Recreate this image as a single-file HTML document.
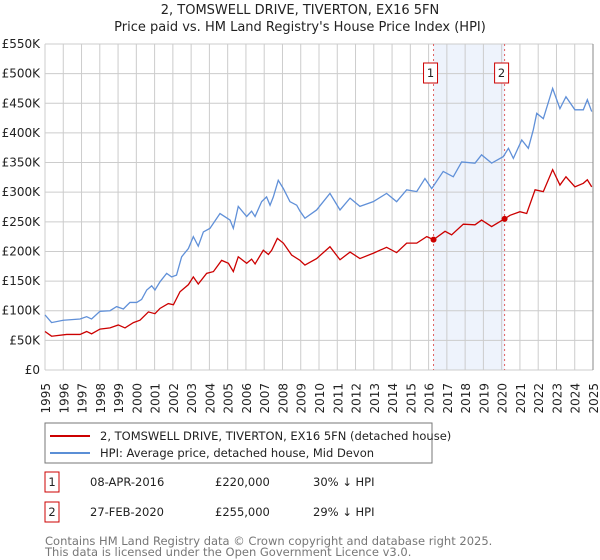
<!DOCTYPE html>
<html><head><meta charset="utf-8"><style>
html,body{margin:0;padding:0;background:#fff;width:600px;height:560px;overflow:hidden}
svg text{font-family:"DejaVu Sans","Liberation Sans",sans-serif}
</style></head><body>
<svg id="chart" width="600" height="560" xmlns="http://www.w3.org/2000/svg">
<text x="300" y="14" text-anchor="middle" font-size="13" fill="#222">2, TOMSWELL DRIVE, TIVERTON, EX16 5FN</text>
<text x="300" y="31" text-anchor="middle" font-size="13" fill="#222">Price paid vs. HM Land Registry's House Price Index (HPI)</text>
<g id="grid"></g><g id="marks"></g><g id="axes"></g>
<g>
<rect x="45" y="423" width="387" height="40" fill="#fff" stroke="#777"/>
<line x1="50" y1="436" x2="90" y2="436" stroke="#cc0000" stroke-width="2"/>
<text x="100" y="440" font-size="11.5" fill="#222">2, TOMSWELL DRIVE, TIVERTON, EX16 5FN (detached house)</text>
<line x1="50" y1="453" x2="90" y2="453" stroke="#5b8fd6" stroke-width="2"/>
<text x="100" y="457" font-size="11.5" fill="#222">HPI: Average price, detached house, Mid Devon</text>
</g>
<g font-size="11.5" fill="#222">
<rect x="45" y="472" width="14" height="20" fill="#fff" stroke="#cc0000"/>
<text x="52" y="486" text-anchor="middle">1</text>
<text x="90" y="486">08-APR-2016</text><text x="215" y="486">£220,000</text><text x="313" y="486">30% ↓ HPI</text>
</g>
<g font-size="11.5" fill="#222">
<rect x="45" y="502" width="14" height="20" fill="#fff" stroke="#cc0000"/>
<text x="52" y="516" text-anchor="middle">2</text>
<text x="90" y="516">27-FEB-2020</text><text x="215" y="516">£255,000</text><text x="313" y="516">29% ↓ HPI</text>
</g>
<text x="45" y="545" font-size="11.5" fill="#777">Contains HM Land Registry data © Crown copyright and database right 2025.</text>
<text x="45" y="556" font-size="11.5" fill="#777">This data is licensed under the Open Government Licence v3.0.</text>
</svg>
<script>
const yTicks=[0,50000,100000,150000,200000,250000,300000,350000,400000,450000,500000,550000];
const yTickLabels=["£0","£50K","£100K","£150K","£200K","£250K","£300K","£350K","£400K","£450K","£500K","£550K"];
const xYears=[1995,1996,1997,1998,1999,2000,2001,2002,2003,2004,2005,2006,2007,2008,2009,2010,2011,2012,2013,2014,2015,2016,2017,2018,2019,2020,2021,2022,2023,2024,2025];
const hpiDates=[1995.0,1995.36,1996.0,1996.92,1997.28,1997.55,1998.01,1998.56,1998.92,1999.29,1999.65,2000.02,2000.29,2000.57,2000.84,2001.02,2001.3,2001.66,2001.93,2002.2,2002.48,2002.85,2003.12,2003.39,2003.67,2004.03,2004.58,2005.13,2005.31,2005.58,2006.04,2006.31,2006.5,2006.86,2007.13,2007.32,2007.5,2007.77,2008.05,2008.41,2008.78,2008.96,2009.23,2009.87,2010.6,2011.15,2011.7,2012.24,2012.97,2013.7,2014.25,2014.8,2015.35,2015.8,2016.17,2016.8,2017.35,2017.81,2018.54,2018.9,2019.45,2020.09,2020.37,2020.64,2021.1,2021.46,2021.73,2021.92,2022.28,2022.79,2023.19,2023.52,2024.01,2024.47,2024.69,2024.93];
const hpiValues=[93,80,84,86,90,86,99,100,107,103,114,114,119,135,142,135,149,163,157,160,191,205,225,209,233,239,264,253,239,276,259,268,259,284,292,278,292,320,306,284,278,268,256,270,298,270,290,276,284,298,284,304,301,323,306,335,326,351,349,363,349,360,374,357,388,374,405,433,424,475,441,461,439,439,456,436];
const priceDates=[1995.0,1995.36,1996.19,1996.92,1997.28,1997.55,1998.01,1998.56,1999.01,1999.38,1999.84,2000.2,2000.66,2001.02,2001.3,2001.75,2002.03,2002.39,2002.85,2003.12,2003.39,2003.85,2004.22,2004.67,2005.04,2005.31,2005.58,2006.04,2006.31,2006.5,2006.95,2007.23,2007.41,2007.72,2008.05,2008.5,2008.96,2009.23,2009.87,2010.6,2011.15,2011.7,2012.24,2012.97,2013.7,2014.25,2014.8,2015.35,2015.9,2016.27,2016.9,2017.26,2017.9,2018.54,2018.9,2019.45,2020.16,2020.46,2021.0,2021.37,2021.83,2022.28,2022.79,2023.19,2023.52,2024.01,2024.47,2024.69,2024.93];
const priceValues=[65,57,60,60,65,61,69,71,76,71,80,84,98,95,104,112,110,132,144,157,145,163,166,185,180,166,191,180,187,179,202,195,202,222,214,194,185,177,188,208,186,199,188,197,207,198,214,214,225,220,234,228,246,245,253,242,255,261,267,264,304,301,338,312,326,309,315,321,309];
const saleDates=[2016.27,2020.16];
const salePrices=[220000,255000];
const saleLabels=["1","2"];

const NS="http://www.w3.org/2000/svg";
const X0=45,X1=593,Y0=370,Y1=44;
const xs=y=>X0+(y-1995)/30*(X1-X0);
const ys=v=>Y0-v/550000*(Y0-Y1);
function mk(tag,attrs,parent){const e=document.createElementNS(NS,tag);for(const k in attrs)e.setAttribute(k,attrs[k]);parent.appendChild(e);return e;}
const grid=document.getElementById('grid'),marks=document.getElementById('marks'),axes=document.getElementById('axes');

const shade=mk('rect',{x:xs(saleDates[0]),y:Y1,width:xs(saleDates[1])-xs(saleDates[0]),height:Y0-Y1,fill:'#eef3fc'},grid);


yTicks.forEach((v,i)=>{
  const l=mk('line',{x1:X0,x2:X1,y1:ys(v),y2:ys(v),stroke:'#cccccc','stroke-width':1},grid);
  
  
  const t=mk('text',{x:40,y:ys(v)+4,'text-anchor':'end','font-size':12,fill:'#222'},axes);
  
  
  t.textContent=yTickLabels[i];
});
xYears.forEach(yr=>{
  const l=mk('line',{x1:xs(yr),x2:xs(yr),y1:Y1,y2:Y0,stroke:'#cccccc','stroke-width':1},grid);
  
  
  const t=mk('text',{x:0,y:0,'text-anchor':'end','font-size':12,fill:'#222',transform:`translate(${xs(yr)+5},383) rotate(-90)`},axes);
  
  
  t.textContent=yr;
});
const edge=mk('line',{x1:X1,x2:X1,y1:Y1,y2:Y0,stroke:'#888','stroke-width':1},grid);



saleDates.forEach((d,i)=>{
  const l=mk('line',{x1:xs(d),x2:xs(d),y1:Y1,y2:Y0,stroke:'#e06060','stroke-dasharray':'2,3','stroke-width':1},marks);
  
  
});
const hp=mk('polyline',{points:hpiDates.map((d,i)=>xs(d)+','+ys(hpiValues[i]*1000)).join(' '),fill:'none',stroke:'#6090d8','stroke-width':1.3},marks);


const pp=mk('polyline',{points:priceDates.map((d,i)=>xs(d)+','+ys(priceValues[i]*1000)).join(' '),fill:'none',stroke:'#cc0000','stroke-width':1.3},marks);


saleDates.forEach((d,i)=>{
  const c=mk('circle',{cx:xs(d),cy:ys(salePrices[i]),r:3,fill:'#cc0000'},marks);
  
  
  const bx=xs(d)-10;
  const r=mk('rect',{x:bx,y:63,width:14,height:20,fill:'#fff',stroke:'#cc0000'},marks);
  
  
  const t=mk('text',{x:bx+7,y:77,'text-anchor':'middle','font-size':11.5,fill:'#222'},marks);
  
  
  t.textContent=saleLabels[i];
});
</script>
</body></html>
